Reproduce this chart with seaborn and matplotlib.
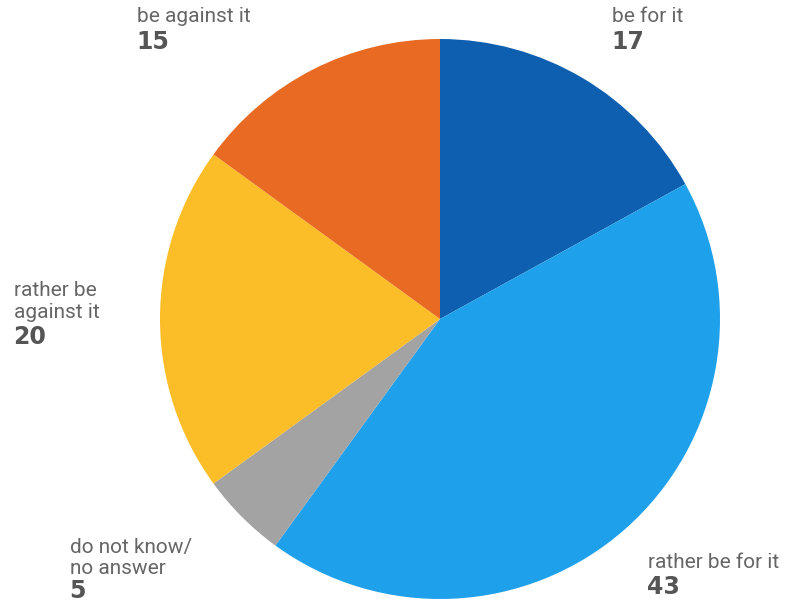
import matplotlib
matplotlib.use("Agg")
import matplotlib.pyplot as plt
import seaborn as sns

categories = ["be for it", "rather be for it", "do not know/\nno answer", "rather be against it", "be against it"]
values = [17, 43, 5, 20, 15]
colors = ["#0E5FAF", "#1EA0EA", "#A3A3A3", "#FBBE28", "#E86A23"]

sns.set_theme(style="white")
plt.rcParams['font.family'] = ['Roboto', 'DejaVu Sans']

W, H = 789, 603
fig = plt.figure(figsize=(W / 100, H / 100), dpi=100)
ax = fig.add_axes([0, 0, 1, 1])

cx, cy, r = 440, H - 319, 280
ax.pie(values, colors=colors, startangle=90, counterclock=False,
       center=(cx, cy), radius=r, frame=True,
       wedgeprops=dict(linewidth=0))
ax.set_xlim(0, W)
ax.set_ylim(0, H)
ax.set_aspect("equal")
ax.axis("off")

# label layout: (x, [line y centers], number y center) in pixel coords from top
layout = {
    "be for it": (612, [17], 42),
    "rather be for it": (648, [563], 587),
    "do not know/\nno answer": (70, [547, 569], 591),
    "rather be against it": (14, [290, 312], 337),
    "be against it": (137, [17], 42),
}
label_lines = {
    "rather be against it": ["rather be", "against it"],
}
for cat, val in zip(categories, values):
    x, ys, ny = layout[cat]
    lines = label_lines.get(cat, cat.split("\n"))
    for line, y in zip(lines, ys):
        ax.text(x, H - y, line, fontsize=15, color="#666666", fontweight="normal",
                ha="left", va="center", family=["Roboto", "DejaVu Sans"])
    ax.text(x - 1, H - ny, str(val), fontsize=17, color="#555555", fontweight="bold",
            ha="left", va="center", family=["DejaVu Sans"])

fig.savefig("out.png", dpi=100)
